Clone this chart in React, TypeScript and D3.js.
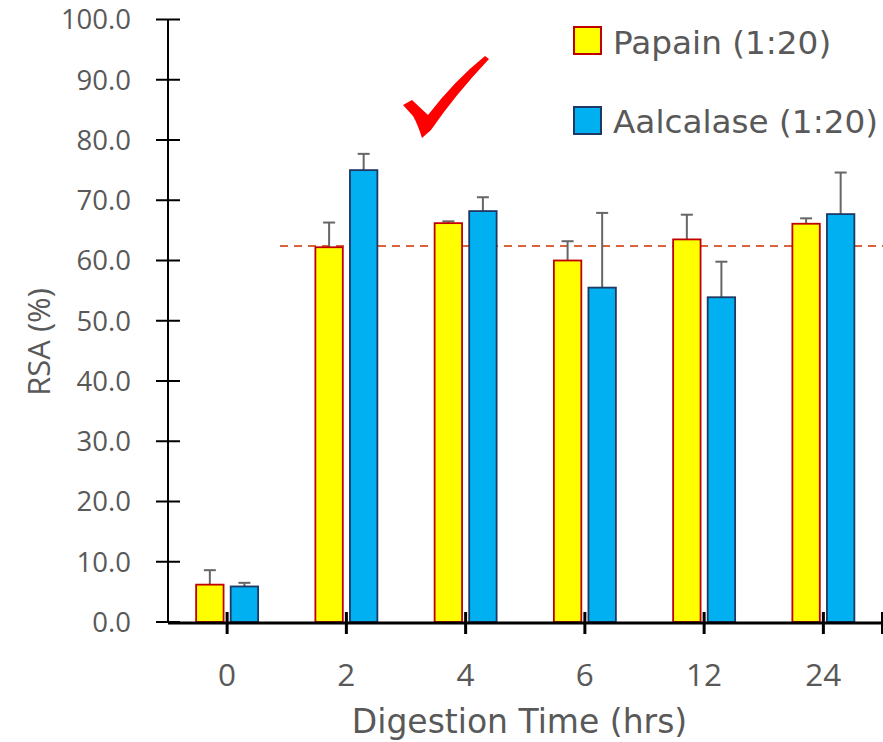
import React from "react";
import * as d3 from "d3";

const categories = ["0", "2", "4", "6", "12", "24"];
const seriesNames = ["Papain (1:20)", "Aalcalase (1:20)"];
const papain = [6.2, 62.2, 66.2, 60.0, 63.5, 66.1];
const papainErr = [2.4, 4.1, 0.3, 3.2, 4.1, 0.9];
const alcalase = [5.9, 75.0, 68.2, 55.5, 53.9, 67.7];
const alcalaseErr = [0.6, 2.7, 2.3, 12.4, 5.9, 6.9];
const yTicks = [0, 10, 20, 30, 40, 50, 60, 70, 80, 90, 100];
const referenceLine = 62.4;

const fills = ["#FFFF00", "#00B0F0"];
const strokes = ["#C00000", "#1F3864"];
const FONT = "'Open Sans', sans-serif";
const WIDE = "'DejaVu Sans', sans-serif";
const TXT = "#595959";

export default function App() {
  const W = 883, H = 742;
  const y = d3.scaleLinear().domain([0, 100]).range([622, 19.5]);
  const x = d3.scaleBand<string>().domain(categories).range([167.5, 883]);
  const xs = d3.scaleBand<string>().domain(seriesNames).range([-31, 31]).paddingInner(0.206);
  const values = [papain, alcalase];
  const errs = [papainErr, alcalaseErr];
  const axisX = 168;

  return (
    <svg width={W} height={H} style={{ position: "absolute", left: 0, top: 0, background: "#fff" }} fontFamily={FONT}>
      {/* y ticks & labels */}
      {yTicks.map((t) => (
        <g key={t}>
          <line x1={156} x2={180} y1={y(t)} y2={y(t)} stroke="#000" strokeWidth={2} />
          <text x={131} y={y(t)} dy="0.36em" textAnchor="end" fontSize={27.5} fill={TXT}>
            {t.toFixed(1)}
          </text>
        </g>
      ))}
      {/* reference line */}
      <line x1={280} x2={883} y1={y(referenceLine)} y2={y(referenceLine)} stroke="#D9643C" strokeWidth={2} strokeDasharray="8,6" />
      {/* bars */}
      {categories.map((c, i) => {
        const cx = x(c)! + x.bandwidth() / 2;
        return (
          <g key={c}>
            {seriesNames.map((s, k) => {
              const v = values[k][i];
              const e = errs[k][i];
              const bx = cx + xs(s)!;
              const bw = xs.bandwidth();
              const mid = bx + bw / 2;
              return (
                <g key={s}>
                  <line x1={mid} x2={mid} y1={y(v)} y2={y(v + e)} stroke="#666" strokeWidth={2} />
                  <line x1={mid - 6} x2={mid + 6} y1={y(v + e)} y2={y(v + e)} stroke="#666" strokeWidth={2} />
                  <rect x={bx} y={y(v)} width={bw} height={y(0) - y(v)} fill={fills[k]} stroke={strokes[k]} strokeWidth={1.8} />
                </g>
              );
            })}
          </g>
        );
      })}
      {/* axes */}
      <line x1={axisX} x2={axisX} y1={y(100)} y2={y(0) + 1} stroke="#000" strokeWidth={2} />
      <line x1={axisX} x2={883} y1={623} y2={623} stroke="#000" strokeWidth={3} />
      {categories.map((c) => {
        const cx = x(c)! + x.bandwidth() / 2;
        return (
          <g key={c}>
            <line x1={cx} x2={cx} y1={612} y2={634} stroke="#000" strokeWidth={3} />
            <text x={cx} y={686} textAnchor="middle" fontSize={31.5} fill={TXT}>{c}</text>
          </g>
        );
      })}
      <line x1={882} x2={882} y1={612} y2={634} stroke="#000" strokeWidth={2} />
      {/* axis titles */}
      <text x={519.5} y={733} textAnchor="middle" fontSize={33} fontFamily={WIDE} fill={TXT}>Digestion Time (hrs)</text>
      <text transform="translate(50,342) rotate(-90)" textAnchor="middle" fontSize={31} fill={TXT}>RSA (%)</text>
      {/* legend */}
      {seriesNames.map((s, k) => (
        <g key={s}>
          <rect x={574} y={27 + k * 80} width={27} height={27} fill={fills[k]} stroke={strokes[k]} strokeWidth={2} />
          <text x={613} y={54 + k * 79} fontSize={32.7} fontFamily={WIDE} fill={TXT}>{s}</text>
        </g>
      ))}
      {/* check mark annotation */}
      <path d="M403,105 L412,100 L428,115 Q455,80 485,56 L489,59 Q455,95 431,130 L422,138 Q418,125 413,116 Z" fill="#FF0000" />
    </svg>
  );
}
